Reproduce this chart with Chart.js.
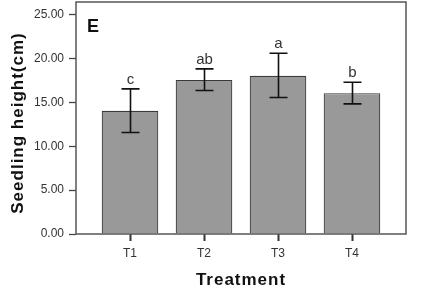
<!DOCTYPE html>
<html><head><meta charset="utf-8">
<script src="https://cdn.jsdelivr.net/npm/chart.js@4"></script>
<style>html,body{margin:0;padding:0;background:#fff}#wrap{width:427px;height:299px}</style>
</head><body><div id="wrap"><canvas id="c" width="427" height="299"></canvas></div>
<script>
const categories = ['T1', 'T2', 'T3', 'T4'];
const positions = [1, 2, 3, 4];
const means = [14.04, 17.57, 18.03, 16.06];
const errUpper = [16.55, 18.83, 20.6, 17.3];
const errLower = [11.57, 16.36, 15.56, 14.84];
const letters = ['c', 'ab', 'a', 'b'];
const yTicks = [0, 5, 10, 15, 20, 25];
const panelLabel = 'E';
const yTitle = 'Seedling height(cm)';
const xTitle = 'Treatment';

const extras = {
  id: 'extras',
  afterDraw(chart) {
    const ctx = chart.ctx, x = chart.scales.x, y = chart.scales.y, a = chart.chartArea;
    ctx.save();
    positions.forEach((p, i) => {
      const px = Math.round(x.getPixelForValue(p)) + 0.5;
      const t = y.getPixelForValue(errUpper[i]), b = y.getPixelForValue(errLower[i]);
      ctx.strokeStyle = '#111'; ctx.lineWidth = 1.6;
      ctx.beginPath();
      ctx.moveTo(px, t); ctx.lineTo(px, b);
      ctx.moveTo(px - 9, t); ctx.lineTo(px + 9, t);
      ctx.moveTo(px - 9, b); ctx.lineTo(px + 9, b);
      ctx.stroke();
      ctx.fillStyle = '#333'; ctx.font = '15px Arial, "Liberation Sans"';
      ctx.textAlign = 'center'; ctx.textBaseline = 'alphabetic';
      ctx.fillText(letters[i], px, t - 5);
      // x tick mark as a small filled rectangle below the axis
      ctx.fillStyle = '#333';
      ctx.fillRect(px - 1, a.bottom, 2, 7);
    });
    ctx.strokeStyle = '#555'; ctx.lineWidth = 1.5;
    ctx.strokeRect(a.left, a.top, a.right - a.left, a.bottom - a.top);
    ctx.fillStyle = '#111'; ctx.font = 'bold 18px Arial, "Liberation Sans"';
    ctx.textAlign = 'left';
    ctx.fillText(panelLabel, a.left + 11, a.top + 30);
    ctx.font = 'bold 17px Arial, "Liberation Sans"';
    ctx.letterSpacing = '1px';
    ctx.textAlign = 'center'; ctx.textBaseline = 'middle';
    ctx.fillText(xTitle, (a.left + a.right) / 2, 280);
    ctx.translate(18, 123); ctx.rotate(-Math.PI / 2);
    ctx.fillText(yTitle, 0, 0);
    ctx.restore();
  }
};

new Chart(document.getElementById('c'), {
  type: 'bar',
  data: {
    datasets: [{
      data: positions.map((p, i) => ({ x: p, y: means[i] })),
      backgroundColor: '#999999',
      borderColor: '#3a3a3a',
      borderWidth: 1.2,
      barPercentage: 0.765,
      categoryPercentage: 1
    }]
  },
  options: {
    responsive: false,
    animation: false,
    devicePixelRatio: 1,
    layout: { padding: { top: 2, right: 21, left: 0, bottom: 0 } },
    plugins: { legend: { display: false }, tooltip: { enabled: false } },
    scales: {
      x: {
        type: 'linear', min: 0.27, max: 4.73, offset: false,
        afterBuildTicks(s) { s.ticks = positions.map(v => ({ value: v })); },
        afterFit(s) { s.height = 65; s.paddingLeft = 0; s.paddingRight = 0; },
        grid: { display: false },
        border: { display: false },
        ticks: { color: '#333', font: { size: 12, family: 'Arial, "Liberation Sans"' }, padding: 4, maxRotation: 0,
          callback(v) { const i = positions.indexOf(v); return i >= 0 ? categories[i] : ''; } }
      },
      y: {
        min: 0, max: 26.45,
        afterBuildTicks(s) { s.ticks = yTicks.map(v => ({ value: v })); },
        afterFit(s) { s.width = 76; s.paddingTop = 0; s.paddingBottom = 0; },
        grid: { drawOnChartArea: false, drawTicks: true, tickLength: 7, color: '#444', tickWidth: 1.3 },
        border: { display: false },
        ticks: { color: '#333', font: { size: 12, family: 'Arial, "Liberation Sans"' }, padding: 5,
          callback(v) { return Number(v).toFixed(2); } }
      }
    }
  },
  plugins: [extras]
});
</script>
</body></html>
